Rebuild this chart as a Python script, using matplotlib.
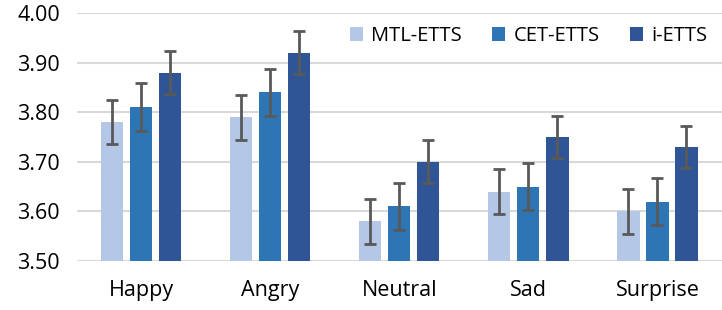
import matplotlib
matplotlib.use("Agg")
import matplotlib.pyplot as plt
import numpy as np

plt.rcParams["font.family"] = ["Open Sans", "DejaVu Sans"]

categorias = ["Happy", "Angry", "Neutral", "Sad", "Surprise"]
modelos = ["MTL-ETTS", "CET-ETTS", "i-ETTS"]
mtl = [3.78, 3.79, 3.58, 3.64, 3.60]
cet = [3.81, 3.84, 3.61, 3.65, 3.62]
ietts = [3.88, 3.92, 3.70, 3.75, 3.73]
err_mtl = [0.045, 0.045, 0.045, 0.045, 0.045]
err_cet = [0.048, 0.048, 0.048, 0.048, 0.048]
err_ietts = [0.043, 0.043, 0.043, 0.043, 0.043]
colores = ["#B4C7E7", "#2E75B6", "#2F5597"]

fig = plt.figure(figsize=(7.22, 3.10), dpi=100)
ax = fig.add_axes([0.106, 0.158, 0.894, 0.8])

x = np.arange(len(categorias))
off = 0.225
w = 0.172
for i, (vals, errs) in enumerate([(mtl, err_mtl), (cet, err_cet), (ietts, err_ietts)]):
    ax.bar(x + (i - 1) * off, vals, width=w, color=colores[i], label=modelos[i],
           yerr=errs, error_kw=dict(ecolor="#595959", elinewidth=2, capsize=4.5, capthick=2),
           zorder=2)

ax.set_ylim(3.5, 4.0)
ax.set_xlim(-0.5, 4.5)
ax.set_yticks(np.arange(3.5, 4.01, 0.1))
ax.set_yticklabels([f"{v:.2f}" for v in np.arange(3.5, 4.01, 0.1)])
ax.set_xticks(x)
ax.set_xticklabels(categorias)
ax.tick_params(length=0, labelsize=15.5)
ax.tick_params(axis="x", pad=14)
ax.tick_params(axis="y", pad=12)
ax.yaxis.grid(True, color="#D9D9D9", lw=1.5, zorder=0)
ax.set_axisbelow(True)
for s in ax.spines.values():
    s.set_visible(False)

ax.legend(ncol=3, frameon=False, loc="upper right", bbox_to_anchor=(1.005, 1.02),
          fontsize=14.5, handlelength=0.65, handleheight=0.65, handletextpad=0.4,
          columnspacing=1.5)

fig.savefig("out.png", dpi=100)
